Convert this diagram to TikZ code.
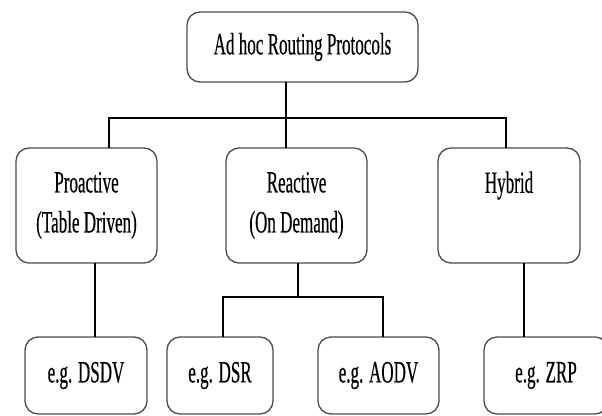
\documentclass[tikz,border=0pt]{standalone}
\usepackage{fontspec}
\newfontfamily\diagfont[FakeStretch=0.55,FakeBold=0.4]{Liberation Serif}
\begin{document}
\begin{tikzpicture}[x=1pt,y=-1pt,
    box/.style={draw=black!70,line width=1.3pt,rounded corners=13pt,fill=white,
        inner sep=0pt,outer sep=0pt,align=center,
        font=\diagfont\fontsize{31}{40}\selectfont},
    link/.style={draw=black,line width=2.4pt}]
    \useasboundingbox (0,0) rectangle (602,415);

    \node[box,minimum width=231pt,minimum height=70pt] (root) at (302.5,47) {Ad hoc Routing Protocols};

    \node[box,minimum width=141pt,minimum height=115pt] (pro) at (86.5,205.5) {Proactive\\(Table Driven)};
    \node[box,minimum width=141pt,minimum height=115pt] (rea) at (296.5,205.5) {Reactive\\(On Demand)};
    \node[box,minimum width=142pt,minimum height=115pt] (hyb) at (509,205.5) {Hybrid\\\phantom{(Xy)}};

    \node[box,minimum width=122pt,minimum height=77pt] (dsdv) at (86,375.5) {e.g. DSDV};
    \node[box,minimum width=106pt,minimum height=77pt] (dsr) at (220,375.5) {e.g. DSR};
    \node[box,minimum width=121pt,minimum height=77pt] (aodv) at (378.5,375.5) {e.g. AODV};
    \node[box,minimum width=124pt,minimum height=77pt] (zrp) at (546,375.5) {e.g. ZRP};

    \coordinate (top) at (286,118);
    \coordinate (busL) at (109,118);
    \coordinate (busR) at (506,118);
    \coordinate (sub) at (298,297);
    \coordinate (subL) at (223,297);
    \coordinate (subR) at (383,297);

    \path[link] (root.south -| top) -- (rea.north -| top);
    \path[link] (pro.north -| busL) -- (busL) -- (busR) -- (hyb.north -| busR);

    \path[link] (pro.south -| 95,0) -- (dsdv.north -| 95,0);
    \path[link] (rea.south -| sub) -- (sub);
    \path[link] (dsr.north -| subL) -- (subL) -- (subR) -- (aodv.north -| subR);
    \path[link] (hyb.south -| 524,0) -- (zrp.north -| 524,0);
\end{tikzpicture}
\end{document}
